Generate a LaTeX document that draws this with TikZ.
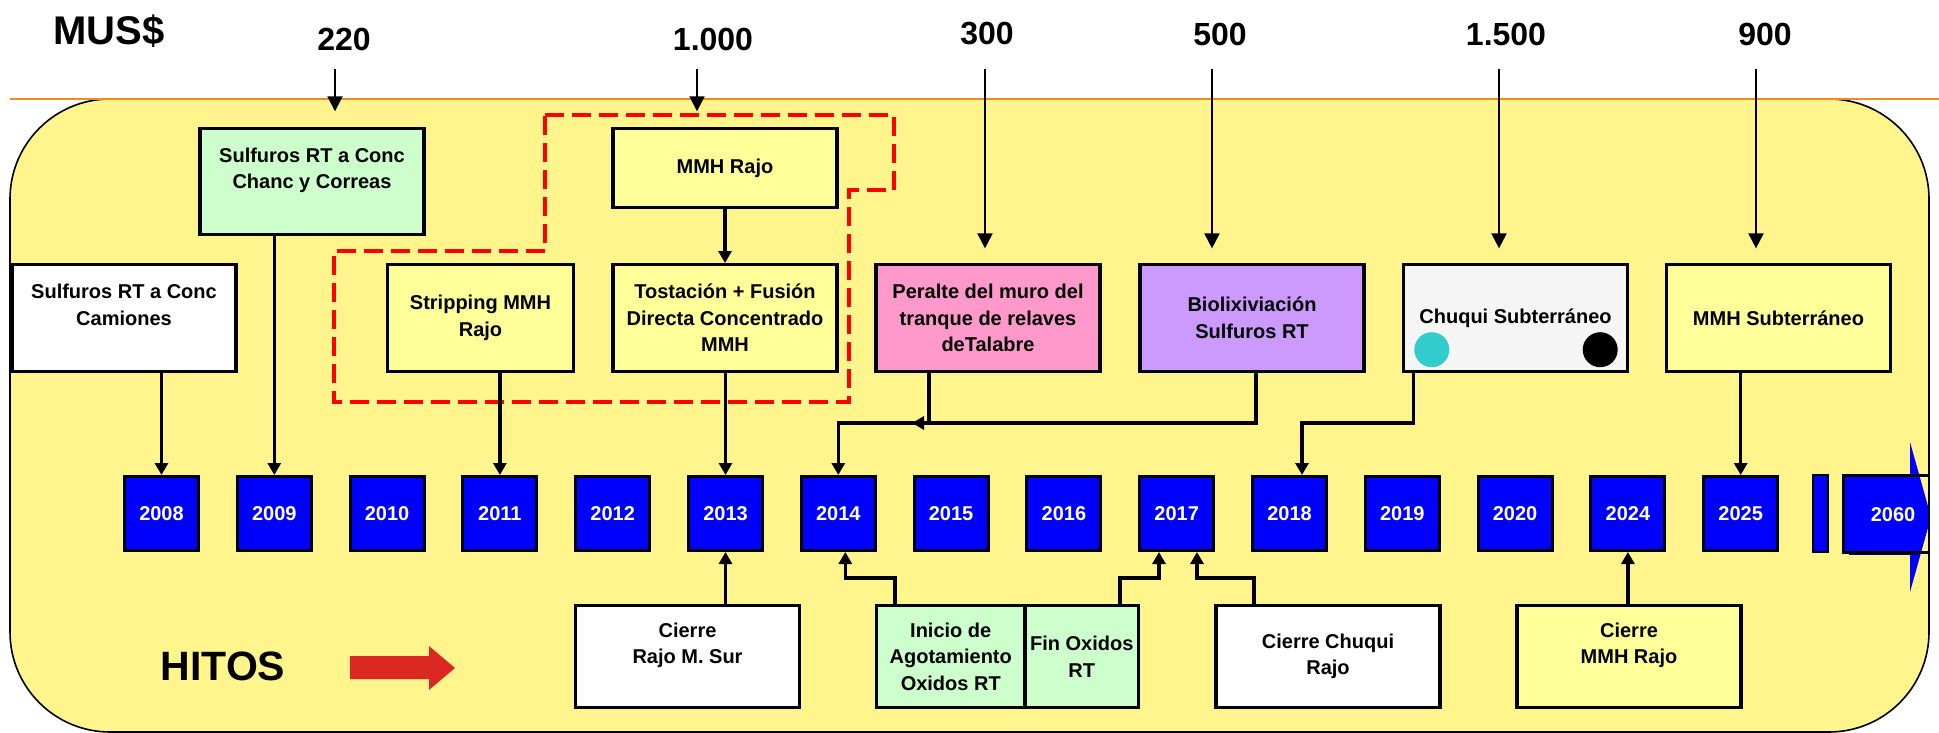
\documentclass[tikz,border=0pt]{standalone}
\usepackage{fontspec}
\setmainfont{Liberation Sans}
\usetikzlibrary{arrows.meta,calc}
\definecolor{fondo}{RGB}{255,245,140}
\definecolor{amarillo}{RGB}{255,255,153}
\definecolor{verde}{RGB}{204,255,204}
\definecolor{rosado}{RGB}{255,153,204}
\definecolor{lila}{RGB}{204,153,255}
\definecolor{azul}{RGB}{0,0,255}
\definecolor{naranjo}{RGB}{240,140,30}
\definecolor{rojo}{RGB}{220,40,35}
\definecolor{turquesa}{RGB}{51,204,204}
\tikzset{
	hito/.style={draw, line width=1.6pt, minimum width=112pt, minimum height=53.4pt, inner sep=1pt, align=center, font=\fontsize{10}{13.25}\selectfont\bfseries},
	anio/.style={draw, line width=1.5pt, fill=azul, minimum width=37pt, minimum height=37pt, inner sep=0pt, text=white, font=\fontsize{10}{12}\selectfont\bfseries},
	enlace/.style={line width=1.6pt, -{Triangle[length=6pt,width=6.5pt]}},
	monto/.style={inner sep=0pt, font=\fontsize{16}{19}\selectfont\bfseries},
	flechamonto/.style={line width=1pt, -{Triangle[length=7.5pt,width=7.5pt]}},
	grupo/.style={draw=red, line width=2pt, dash pattern=on 9.5pt off 4pt}
}

\begin{document}
\begin{tikzpicture}[x=0.5pt,y=-0.5pt]
			%%%%% START %%%%%
			\useasboundingbox (0,0) rectangle (1939,733);
			\begin{scope}
			\clip[rounded corners=50pt] (10,99) rectangle (1929,732);
			\fill[fondo] (0,0) rectangle (1939,733);
			\fill[azul] (1843,475) -- (1910,475) -- (1910,442) -- (1931,517) -- (1910,592) -- (1910,552) -- (1843,552) -- cycle;
			\draw[line width=1pt, black!60!blue] (1849,553.5) -- (1918,553.5);
			\draw[line width=1.5pt] (1930,475) -- (1843,475) -- (1843,552) -- (1930,552);
			\end{scope}
			\draw[line width=0.8pt, rounded corners=50pt] (10,99) rectangle (1929,732);
			\draw[line width=0.8pt, naranjo] (10,99) -- (1939,99);
			
			\node[font=\fontsize{20}{24}\selectfont\bfseries] (mus) at (109,31) {MUS\$};
			\node[font=\fontsize{20.5}{24}\selectfont\bfseries] (hitos) at (223,666) {HITOS};
			\fill[rojo] (350,656) -- (429,656) -- (429,646) -- (455,668) -- (429,690) -- (429,679) -- (350,679) -- cycle;
			
			\draw[grupo] (545,115) -- (894,115) -- (894,190) -- (849,190) -- (849,402) -- (334,402) -- (334,251) -- (545,251) -- cycle;
			
			% proyectos
			\node[hito, fill=white] (camiones) at (124,318) {Sulfuros RT a Conc\\Camiones\\~};
			\node[hito, fill=verde, minimum height=53pt] (correas) at (312,181.5) {Sulfuros RT a Conc\\Chanc y Correas\\~};
			\node[hito, fill=amarillo, minimum width=93pt] (stripping) at (480.5,318) {Stripping MMH\\Rajo};
			\node[hito, fill=amarillo, minimum height=39.5pt] (mmhrajo) at (725,168) {MMH Rajo};
			\node[hito, fill=amarillo] (tostacion) at (725,318) {Tostación + Fusión\\Directa Concentrado\\MMH};
			\node[hito, fill=rosado] (peralte) at (988,318) {Peralte del muro del\\tranque de relaves\\deTalabre};
			\node[hito, fill=lila] (biolix) at (1252,318) {Biolixiviación\\Sulfuros RT};
			\node[hito, fill=black!4] (chuquisub) at (1515.5,318) {Chuqui Subterráneo};
			\node[circle, fill=turquesa, minimum size=17.5pt, inner sep=0pt] (ptoa) at (1431.8,349.7) {};
			\node[circle, fill=black, minimum size=17.5pt, inner sep=0pt] (ptob) at (1600.2,349.7) {};
			\node[hito, fill=amarillo] (mmhsub) at (1778.5,318) {MMH Subterráneo};
			
			% hitos
			\node[hito, fill=white, minimum height=51pt] (cierresur) at (687.5,656.5) {Cierre\\Rajo M. Sur\\~};
			\node[hito, fill=verde, minimum height=51pt, minimum width=74.25pt] (inicio) at (950.75,656.5) {Inicio de\\Agotamiento\\Oxidos RT};
			\node[hito, fill=verde, minimum height=51pt, minimum width=56.75pt] (finox) at (1081.75,656.5) {Fin Oxidos\\RT};
			\node[hito, fill=white, minimum height=51pt] (cierrechuqui) at (1328,656.5) {Cierre Chuqui\\Rajo};
			\node[hito, fill=amarillo, minimum height=51pt] (cierremmh) at (1629,656.5) {Cierre\\MMH Rajo\\~};
			
			% anios
			\node[anio] (y2008) at (161.5,513.5) {2008};
			\node[anio] (y2009) at (274.3,513.5) {2009};
			\node[anio] (y2010) at (387.1,513.5) {2010};
			\node[anio] (y2011) at (499.9,513.5) {2011};
			\node[anio] (y2012) at (612.7,513.5) {2012};
			\node[anio] (y2013) at (725.5,513.5) {2013};
			\node[anio] (y2014) at (838.3,513.5) {2014};
			\node[anio] (y2015) at (951.1,513.5) {2015};
			\node[anio] (y2016) at (1063.9,513.5) {2016};
			\node[anio] (y2017) at (1176.7,513.5) {2017};
			\node[anio] (y2018) at (1289.5,513.5) {2018};
			\node[anio] (y2019) at (1402.3,513.5) {2019};
			\node[anio] (y2020) at (1515.1,513.5) {2020};
			\node[anio] (y2024) at (1627.9,513.5) {2024};
			\node[anio] (y2025) at (1740.7,513.5) {2025};
			\draw[fill=azul, line width=0.8pt] (1813,475) rectangle (1828,552);
			\node[anio, draw=none, fill=none] (y2060) at (1893,515) {2060};
			
			% enlaces
			\draw[enlace] (camiones.south -| y2008) -- (y2008.north);
			\draw[enlace] (correas.south -| y2009) -- (y2009.north);
			\draw[enlace] (stripping.south -| y2011) -- (y2011.north);
			\draw[enlace] (mmhrajo.south) -- (tostacion.north);
			\draw[enlace] (tostacion.south -| y2013) -- (y2013.north);
			\draw[enlace] ([xshift=-29.5pt]peralte.south) -- ++(0,50) -| (y2014.north);
			\coordinate (union) at ($(peralte.south)+(-38pt,-25pt)$);
			\draw[enlace] ([xshift=2pt]biolix.south) -- ++(0,50) -- (union);
			\draw[enlace] ([xshift=-51.1pt]chuquisub.south) -- ++(0,50) -| ([xshift=6.25pt]y2018.north);
			\draw[enlace] (mmhsub.south -| y2025) -- (y2025.north);
			\draw[enlace] (cierresur.north -| y2013) -- (y2013.south);
			\draw[enlace] ([xshift=-27.9pt]inicio.north) -- ++(0,-26) -| ([xshift=3.5pt]y2014.south);
			\draw[enlace] ([xshift=19.1pt]finox.north) -- ++(0,-26) -| ([xshift=-8.85pt]y2017.south);
			\draw[enlace] ([xshift=-37pt]cierrechuqui.north) -- ++(0,-26) -| ([xshift=10.15pt]y2017.south);
			\draw[enlace] (cierremmh.north -| y2024) -- (y2024.south);
			
			% montos
			\node[monto] (m220) at (344,39) {220};
			\node[monto] (m1000) at (713,39) {1.000};
			\node[monto] (m300) at (987,34) {300};
			\node[monto] (m500) at (1220,34) {500};
			\node[monto] (m1500) at (1506,34) {1.500};
			\node[monto] (m900) at (1765,34) {900};
			\draw[flechamonto] ($(m220.south)+(-4.5pt,-9.25pt)$) -- ($(m220.south |- correas.north)+(-4.5pt,7.8pt)$);
			\draw[flechamonto] ($(m1000.south)+(-8pt,-9.25pt)$) -- ($(m1000.south |- mmhrajo.north)+(-8pt,7.8pt)$);
			\draw[flechamonto] ($(m300.south)+(-1pt,-11.75pt)$) -- ($(m300.south |- peralte.north)+(-1pt,7.3pt)$);
			\draw[flechamonto] ($(m500.south)+(-4pt,-11.75pt)$) -- ($(m500.south |- biolix.north)+(-4pt,7.3pt)$);
			\draw[flechamonto] ($(m1500.south)+(-3.5pt,-11.75pt)$) -- ($(m1500.south |- chuquisub.north)+(-3.5pt,7.3pt)$);
			\draw[flechamonto] ($(m900.south)+(-4.5pt,-11.75pt)$) -- ($(m900.south |- mmhsub.north)+(-4.5pt,7.3pt)$);
			%%%%% END %%%%%
\end{tikzpicture}
\end{document}
